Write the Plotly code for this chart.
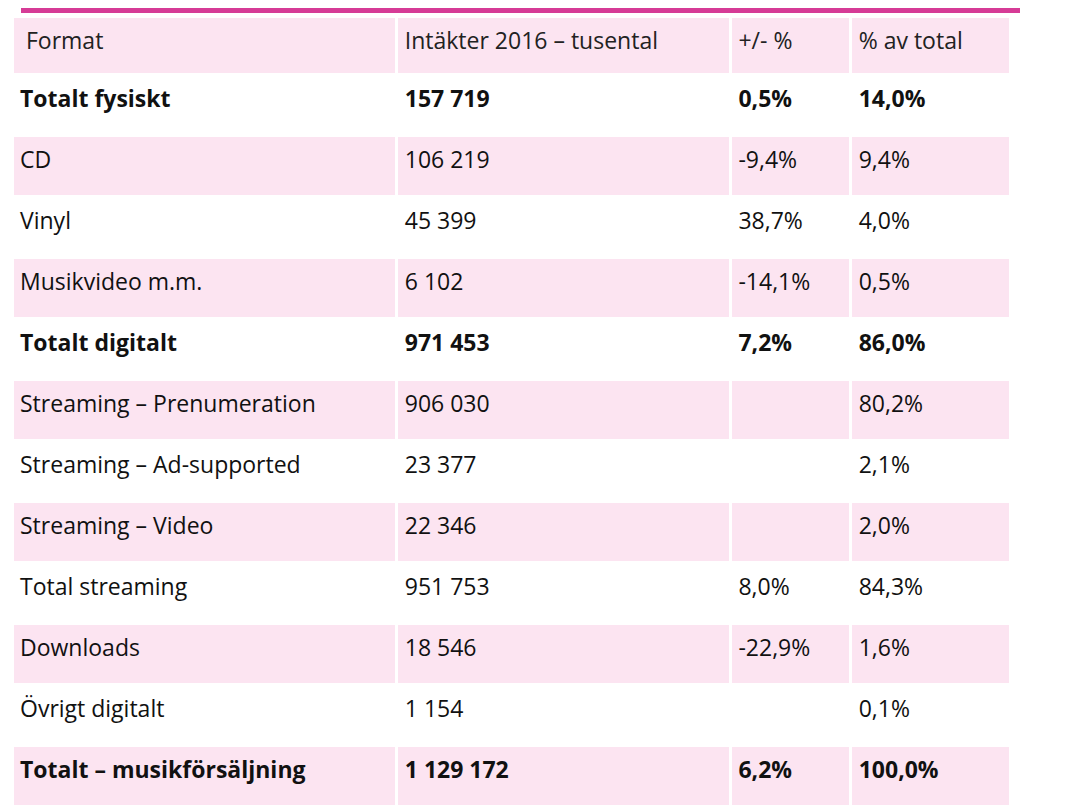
import plotly.graph_objects as go

header = ["Format", "Intäkter 2016 – tusental", "+/- %", "% av total"]
formats = ["Totalt fysiskt", "CD", "Vinyl", "Musikvideo m.m.", "Totalt digitalt",
           "Streaming – Prenumeration", "Streaming – Ad-supported", "Streaming – Video",
           "Total streaming", "Downloads", "Övrigt digitalt", "Totalt – musikförsäljning"]
revenue = ["157 719", "106 219", "45 399", "6 102", "971 453", "906 030", "23 377",
           "22 346", "951 753", "18 546", "1 154", "1 129 172"]
change = ["0,5%", "-9,4%", "38,7%", "-14,1%", "7,2%", "", "", "", "8,0%", "-22,9%", "", "6,2%"]
share = ["14,0%", "9,4%", "4,0%", "0,5%", "86,0%", "80,2%", "2,1%", "2,0%", "84,3%",
         "1,6%", "0,1%", "100,0%"]
bold_rows = {0, 4, 11}

pink = "#fce4f1"
W, H = 1073, 808


def fmt(col):
    out = []
    for i, v in enumerate(col):
        if not v:
            out.append(v)
        elif i in bold_rows:
            out.append(f"<b>{v}</b>")
        else:
            out.append(f"<span>{v}</span>")
    return out


row_fill = ["white" if i % 2 == 0 else pink for i in range(len(formats))]

fig = go.Figure(go.Table(
    domain=dict(x=[4 / W, 1003 / W], y=[0, 1 - 8 / H]),
    columnwidth=[384, 333, 120, 160],
    header=dict(values=["<span> " + header[0] + "</span>"] + [f"<span>{h}</span>" for h in header[1:]],
                fill_color=pink,
                line=dict(color="white", width=3), align="left", height=58,
                font=dict(family="Open Sans", size=23, color="#222")),
    cells=dict(values=[fmt(formats), fmt(revenue), fmt(change), fmt(share)],
               fill_color=[row_fill] * 4, line=dict(color="white", width=3),
               align="left", height=61,
               font=dict(family="Open Sans", size=23, color="#111")),
))
fig.add_shape(type="rect", xref="paper", yref="paper", x0=13 / W, x1=1012 / W,
              y0=1 - 5 / H, y1=1, fillcolor="#d63b96", line_width=0)
fig.update_layout(width=W, height=H, margin=dict(l=0, r=0, t=0, b=0),
                  paper_bgcolor="white")
fig.write_html("out.html")
